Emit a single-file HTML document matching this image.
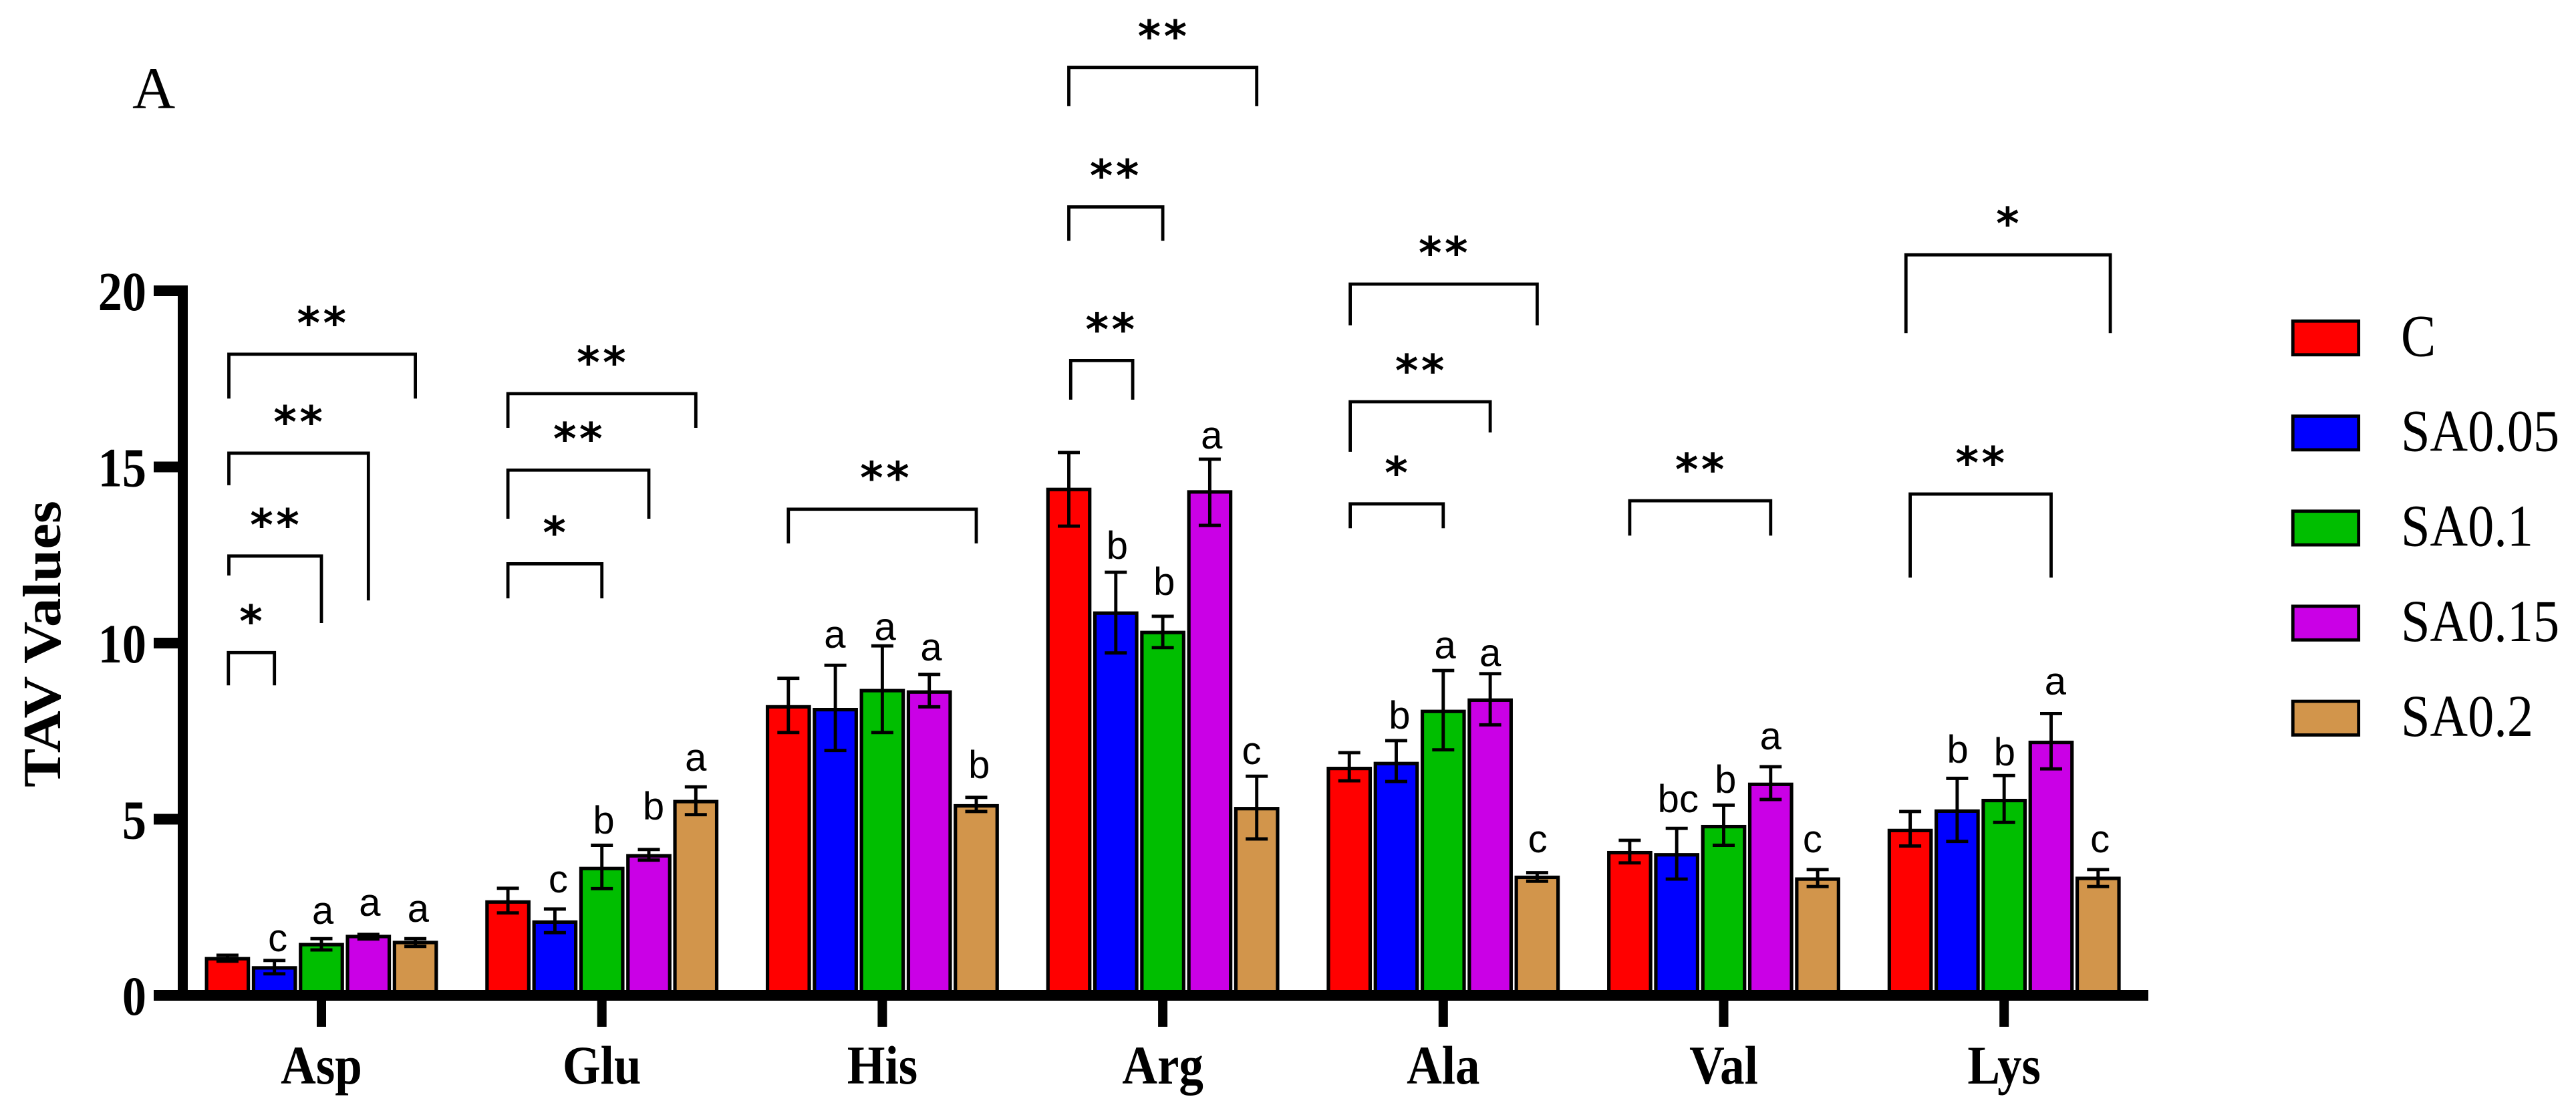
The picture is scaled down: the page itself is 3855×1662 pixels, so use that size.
<!DOCTYPE html>
<html lang="en">
<head>
<meta charset="utf-8">
<title>TAV Values by amino acid</title>
<style>
html,body{margin:0;padding:0;background:#fff;}
svg{display:block;}
</style>
</head>
<body>
<svg id="chart" xmlns="http://www.w3.org/2000/svg" width="3855" height="1662" viewBox="0 0 3855 1662">
  <rect x="0" y="0" width="3855" height="1662" fill="#ffffff"/>
  <text x="198" y="162" font-family="'Liberation Serif',serif" font-size="89" fill="#000">A</text>
  <text transform="translate(90,963.5) rotate(-90) scale(1.09,1)" text-anchor="middle" font-family="'Liberation Serif',serif" font-weight="bold" font-size="80" fill="#000">TAV Values</text>
  <g id="bars"></g>
  <g id="errors"></g>
  <g id="letters"></g>
  <g id="brackets"></g>
  <g id="axes"></g>
  <g id="legend"></g>
</svg>
<script>
const categories = ['Asp','Glu','His','Arg','Ala','Val','Lys'];
const seriesNames = ['C','SA0.05','SA0.1','SA0.15','SA0.2'];
const seriesColors = ['#ff0000','#0000ff','#00be00','#ca00e6','#d2954b'];
const yTicks = [0,5,10,15,20];

const valuesC     = [1.04,2.65,8.19,14.36,6.44,4.05,4.68];
const valuesSA005 = [0.78,2.08,8.11,10.85,6.58,3.99,5.23];
const valuesSA01  = [1.44,3.60,8.65,10.30,8.06,4.79,5.53];
const valuesSA015 = [1.67,3.96,8.61,14.29,8.38,5.99,7.18];
const valuesSA02  = [1.50,5.50,5.38,5.30,3.35,3.30,3.32];

const upperC     = [1.14,3.04,9.00,15.41,6.89,4.40,5.22];
const upperSA005 = [0.99,2.45,9.37,12.01,7.23,4.74,6.16];
const upperSA01  = [1.61,4.26,9.92,10.76,9.22,5.40,6.24];
const upperSA015 = [1.73,4.14,9.11,15.22,9.13,6.49,8.00];
const upperSA02  = [1.61,5.92,5.62,6.22,3.48,3.57,3.57];

const lowerC     = [0.97,2.34,7.46,13.32,6.09,3.76,4.24];
const lowerSA005 = [0.61,1.78,6.95,9.72,6.07,3.30,4.37];
const lowerSA01  = [1.29,3.03,7.46,9.87,6.97,4.26,4.91];
const lowerSA015 = [1.60,3.84,8.19,13.34,7.68,5.56,6.43];
const lowerSA02  = [1.39,5.13,5.22,4.44,3.24,3.09,3.09];

/* significance letters: text, plus the axis level of each letter's baseline */
const lettersSA005 = ['c','c','a','b','b','bc','b'];
const lettersSA01  = ['a','b','a','b','a','b','b'];
const lettersSA015 = ['a','b','a','a','a','a','a'];
const lettersSA02  = ['a','a','b','c','c','c','c'];
const letterLevelSA005 = [1.25,2.92,9.87,12.39,7.57,5.20,6.60];
const letterLevelSA01  = [2.03,4.59,10.09,11.37,9.56,5.75,6.53];
const letterLevelSA015 = [2.26,4.99,9.51,15.52,9.35,6.98,8.54];
const letterLevelSA02  = [2.09,6.38,6.17,6.57,4.06,4.06,4.06];
const letterShiftSA005 = [0.07,0.07,-0.01,0.03,0.07,0.03,0.01];
const letterShiftSA01  = [0.03,0.04,0.06,0.03,0.04,0.04,0.01];
const letterShiftSA015 = [0.03,0.10,0.04,0.04,0,0,0.09];
const letterShiftSA02  = [0.06,0,0.06,-0.11,0.01,-0.11,0.04];

/* comparison brackets, in category / series-slot / axis units */
const bracketGroup = [0,0,0,0, 1,1,1, 2, 3,3,3, 4,4,4, 5, 6,6];
const bracketFrom  = [0.02,0.03,0.03,0.03, 0,0,0, 0, 0.04,0,0, 0.02,0.02,0.02, 0, 0,-0.09];
const bracketTo    = [1,2,3,4, 2,3,4, 4, 1.36,2,4, 2,3,4, 3, 3,4.26];
const bracketLevel = [9.73,12.47,15.39,18.20, 12.25,14.91,17.08, 13.80, 18.02,22.38,26.34, 13.95,16.85,20.19, 14.04, 14.23,21.02];
const bracketLeftEnd  = [8.80,11.92,14.48,16.94, 11.27,13.53,16.11, 12.83, 16.91,21.42,25.24, 13.26,15.43,19.02, 13.05, 11.86,18.80];
const bracketRightEnd = [8.80,10.57,11.21,16.94, 11.27,13.53,16.11, 12.83, 16.91,21.42,25.24, 13.26,15.98,19.02, 13.05, 11.86,18.80];
const bracketStars = ['*','**','**','**', '*','**','**', '**', '**','**','**', '*','**','**', '**', '**','*'];
const bracketStarShift = [0,0,0,0, 0,0,0, 0.06, 0.19,-0.02,0, 0,0,0, 0, 0,0];

const allValues = [valuesC,valuesSA005,valuesSA01,valuesSA015,valuesSA02];
const allUpper = [upperC,upperSA005,upperSA01,upperSA015,upperSA02];
const allLower = [lowerC,lowerSA005,lowerSA01,lowerSA015,lowerSA02];
const allLetters = [null,lettersSA005,lettersSA01,lettersSA015,lettersSA02];
const allLetterLevels = [null,letterLevelSA005,letterLevelSA01,letterLevelSA015,letterLevelSA02];
const allLetterShifts = [null,letterShiftSA005,letterShiftSA01,letterShiftSA015,letterShiftSA02];

const NS = 'http://www.w3.org/2000/svg';
const Y0 = 1489, PX_PER_UNIT = 52.7;
const X0 = 481, GROUP_STEP = 419.7, SLOT_STEP = 70.3;
const yScale = v => Y0 - v * PX_PER_UNIT;
const xScale = (g, s) => X0 + GROUP_STEP * g + SLOT_STEP * (s - 2);

function make(tag, attrs, parent, text) {
  const el = document.createElementNS(NS, tag);
  for (const k in attrs) el.setAttribute(k, attrs[k]);
  if (text !== undefined) el.textContent = text;
  parent.appendChild(el);
  return el;
}
const barsG = document.getElementById('bars');
const errG = document.getElementById('errors');
const letG = document.getElementById('letters');
const brG = document.getElementById('brackets');
const axG = document.getElementById('axes');
const lgG = document.getElementById('legend');

const BAR_W = 62.5, BAR_SW = 5.2, CAP_W = 33, ERR_SW = 4.9;

/* bars, whiskers, letters */
categories.forEach((cat, g) => {
  seriesNames.forEach((name, s) => {
    const cx = xScale(g, s);
    const top = yScale(allValues[s][g]);
    const bar = make('rect', {x: cx - BAR_W / 2, y: top, width: BAR_W, height: Y0 - top, fill: seriesColors[s], stroke: '#000', 'stroke-width': BAR_SW}, barsG);
    
    

    const up = yScale(allUpper[s][g]);
    const lo = yScale(allLower[s][g]);
    const whisker = make('path', {d: 'M' + cx + ' ' + up + 'V' + lo + 'M' + (cx - CAP_W / 2) + ' ' + up + 'H' + (cx + CAP_W / 2) + 'M' + (cx - CAP_W / 2) + ' ' + lo + 'H' + (cx + CAP_W / 2), fill: 'none', stroke: '#000', 'stroke-width': ERR_SW}, errG);
    
    

    if (allLetters[s]) {
      const lx = xScale(g, s + allLetterShifts[s][g]);
      const ly = yScale(allLetterLevels[s][g]);
      const letter = make('text', {transform: 'translate(' + lx + ',' + ly + ')', 'text-anchor': 'middle', 'font-family': "'Liberation Sans',sans-serif", 'font-size': 58, fill: '#000'}, letG, allLetters[s][g]);
      
      
    }
  });
});

/* comparison brackets with stars */
bracketGroup.forEach((g, i) => {
  const x1 = xScale(g, bracketFrom[i]);
  const x2 = xScale(g, bracketTo[i]);
  const yT = yScale(bracketLevel[i]);
  const path = make('path', {d: 'M' + x1 + ' ' + yScale(bracketLeftEnd[i]) + 'V' + yT + 'H' + x2 + 'V' + yScale(bracketRightEnd[i]), fill: 'none', stroke: '#000', 'stroke-width': 4.8}, brG);
  
  
  const sx = (x1 + x2) / 2 + 1.5 + bracketStarShift[i] * SLOT_STEP;
  const star = make('text', {x: sx, y: yT - 23.5, 'text-anchor': 'middle', 'font-family': "'DejaVu Sans',sans-serif", 'font-weight': 'bold', 'font-size': 66, 'letter-spacing': 4.5, fill: '#000'}, brG, bracketStars[i]);
  
  
});

/* axes */
const yAxis = make('rect', {x: 266, y: yScale(20) - 8, width: 15, height: Y0 - yScale(20) + 8}, axG);


const xAxis = make('rect', {x: 230, y: Y0 - 8, width: 2985, height: 16}, axG);



yTicks.forEach(t => {
  const ty = yScale(t);
  const mark = make('rect', {x: 230, y: ty - 8, width: 36, height: 16}, axG);
  
  
  const lab = make('text', {transform: 'translate(219,' + (ty + 29) + ') scale(0.87,1)', 'text-anchor': 'end', 'font-family': "'Liberation Serif',serif", 'font-weight': 'bold', 'font-size': 83, fill: '#000'}, axG, String(t));
  
  
});

categories.forEach((cat, g) => {
  const cx = xScale(g, 2);
  const mark = make('rect', {x: cx - 7, y: Y0 + 8, width: 14, height: 39}, axG);
  
  
  const lab = make('text', {transform: 'translate(' + cx + ',1621) scale(0.89,1)', 'text-anchor': 'middle', 'font-family': "'Liberation Serif',serif", 'font-weight': 'bold', 'font-size': 82, fill: '#000'}, axG, cat);
  
  
});

/* legend */
seriesNames.forEach((name, s) => {
  const top = 480.3 + 142.2 * s;
  const swatch = make('rect', {x: 3431.3, y: top, width: 98.4, height: 50.4, fill: seriesColors[s], stroke: '#000', 'stroke-width': 4.8}, lgG);
  
  
  const lab = make('text', {transform: 'translate(3593,' + (top + 52) + ') scale(0.88,1)', 'font-family': "'Liberation Serif',serif", 'font-size': 89, fill: '#000'}, lgG, name);
  
  
});
</script>
</body>
</html>
